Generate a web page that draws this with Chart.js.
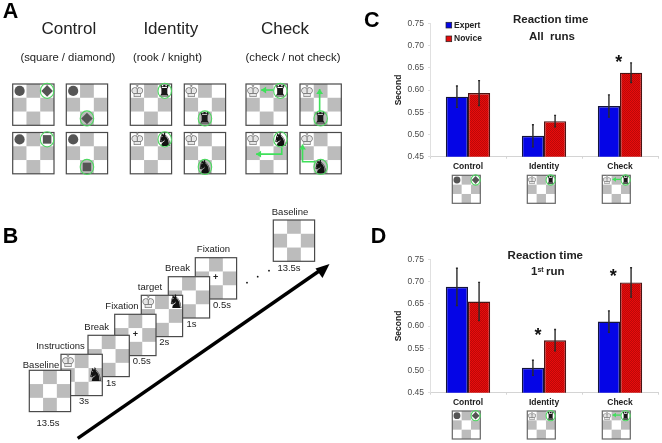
<!DOCTYPE html>
<html>
<head>
<meta charset="utf-8">
<script src="https://cdn.jsdelivr.net/npm/chart.js@4"></script>
<style>
  html, body { margin: 0; padding: 0; background: #fff; }
  #wrap { position: relative; width: 662px; height: 443px; overflow: hidden; }
  canvas { position: absolute; }
</style>
</head>
<body>
<div id="wrap">
  <canvas id="sketch" width="662" height="443" style="left:0;top:0"></canvas>
  <canvas id="chartC" width="292" height="225" style="left:370px;top:0"></canvas>
  <canvas id="chartD" width="292" height="218" style="left:370px;top:225px"></canvas>
</div>
<script>
// Data
const categories = ["Control", "Identity", "Check"];
const seriesNames = ["Expert", "Novice"];
const yTicks = ["0.45", "0.50", "0.55", "0.60", "0.65", "0.70", "0.75"];

const expertAll = [0.585, 0.497, 0.564];
const noviceAll = [0.593, 0.530, 0.639];
const expertAllErr = [0.024, 0.025, 0.025];
const noviceAllErr = [0.028, 0.013, 0.022];

const expertFirst = [0.688, 0.506, 0.610];
const noviceFirst = [0.655, 0.568, 0.698];
const expertFirstErr = [0.042, 0.017, 0.024];
const noviceFirstErr = [0.043, 0.024, 0.033];

const FONT = '"Liberation Sans", Arial, sans-serif';
const BLUE = "#0505e6";

// Red fill with the fine dark dots of the original
function redPattern() {
  const c = document.createElement("canvas");
  c.width = 2;
  c.height = 2;
  const x = c.getContext("2d");
  x.fillStyle = "#e80c0c";
  x.fillRect(0, 0, 2, 2);
  x.fillStyle = "#bc0808";
  x.fillRect(0, 0, 1, 1);
  x.fillRect(1, 1, 1, 1);
  return document.getElementById("sketch").getContext("2d").createPattern(c, "repeat");
}

// Error bars, placed through the value scale
const errorBars = {
  id: "errorBars",
  afterDatasetsDraw(chart) {
    const ctx = chart.ctx;
    const yScale = chart.scales.y;
    ctx.save();
    ctx.strokeStyle = "#2a2a2a";
    ctx.lineWidth = 1.4;
    chart.data.datasets.forEach(function (ds, i) {
      chart.getDatasetMeta(i).data.forEach(function (bar, j) {
        const top = yScale.getPixelForValue(ds.data[j] + ds.err[j]);
        const bottom = yScale.getPixelForValue(ds.data[j] - ds.err[j]);
        ctx.beginPath();
        ctx.moveTo(bar.x, top);
        ctx.lineTo(bar.x, bottom);
        ctx.moveTo(bar.x - 1, top);
        ctx.lineTo(bar.x + 1, top);
        ctx.moveTo(bar.x - 1, bottom);
        ctx.lineTo(bar.x + 1, bottom);
        ctx.stroke();
      });
    });
    ctx.restore();
  },
};

function makeChart(id, expert, novice, expertErr, noviceErr, areaTop, xHeight) {
  return new Chart(document.getElementById(id), {
    type: "bar",
    data: {
      labels: categories,
      datasets: [
        { label: seriesNames[0], data: expert, err: expertErr, backgroundColor: BLUE, borderColor: "#14143c", borderWidth: 1.4 },
        { label: seriesNames[1], data: novice, err: noviceErr, backgroundColor: redPattern(), borderColor: "#4a1414", borderWidth: 1.4 },
      ],
    },
    plugins: [errorBars],
    options: {
      responsive: false,
      animation: false,
      layout: { padding: { top: areaTop, right: 4, left: 0, bottom: 0 } },
      plugins: { legend: { display: false }, title: { display: false }, tooltip: { enabled: false } },
      datasets: { bar: { categoryPercentage: 0.583, barPercentage: 1 } },
      scales: {
        x: {
          grid: { drawOnChartArea: false, color: "#d4d4d4", tickLength: 2 },
          border: { color: "#d4d4d4" },
          ticks: { color: "#222", padding: 3, font: { family: FONT, size: 8.5, weight: "bold" }, maxRotation: 0 },
          afterFit(s) { s.height = xHeight; },
        },
        y: {
          min: 0.45,
          max: 0.75,
          grid: { drawOnChartArea: false, color: "#e0e0e0", tickLength: 2 },
          border: { color: "#e0e0e0" },
          ticks: {
            stepSize: 0.05,
            color: "#4a4a4a",
            padding: 4,
            font: { family: FONT, size: 8.5 },
            callback: function (v) { return yTicks[Math.round((v - 0.45) / 0.05)]; },
          },
          title: { display: true, text: "Second", color: "#222", padding: { top: 24, bottom: 0 }, font: { family: FONT, size: 8.5, weight: "bold" } },
          afterFit(s) { s.width = 60; },
        },
      },
    },
  });
}

makeChart("chartC", expertAll, noviceAll, expertAllErr, noviceAllErr, 23.3, 68.3);
makeChart("chartD", expertFirst, noviceFirst, expertFirstErr, noviceFirstErr, 34.3, 50.3);

// ---- everything that is not the bar charts: boards, labels, arrows ----
const ctx = document.getElementById("sketch").getContext("2d");

function label(text, x, y, size, opts) {
  opts = opts || {};
  ctx.font = (opts.bold ? "bold " : "") + size + "px " + FONT;
  ctx.fillStyle = opts.color || "#222";
  ctx.textAlign = opts.align || "center";
  ctx.textBaseline = "middle";
  ctx.fillText(text, x, y);
}

function greenArrow(pts, k, x0, y0) {
  ctx.strokeStyle = "#3fe05a";
  ctx.fillStyle = "#3fe05a";
  ctx.lineWidth = 1.6 * Math.max(k, 0.8);
  ctx.beginPath();
  pts.forEach(function (p, i) {
    if (i === 0) ctx.moveTo(x0 + p[0] * k, y0 + p[1] * k);
    else ctx.lineTo(x0 + p[0] * k, y0 + p[1] * k);
  });
  ctx.stroke();
  const a = pts[pts.length - 1];
  const b = pts[pts.length - 2];
  const ang = Math.atan2(a[1] - b[1], a[0] - b[0]);
  const tipX = x0 + a[0] * k;
  const tipY = y0 + a[1] * k;
  const h = 6 * k;
  ctx.beginPath();
  ctx.moveTo(tipX, tipY);
  ctx.lineTo(tipX - h * Math.cos(ang - 0.6), tipY - h * Math.sin(ang - 0.6));
  ctx.lineTo(tipX - h * Math.cos(ang + 0.6), tipY - h * Math.sin(ang + 0.6));
  ctx.closePath();
  ctx.fill();
}

function drawPiece(kind, cx, cy, cell) {
  ctx.textAlign = "center";
  ctx.textBaseline = "middle";
  // the chess glyphs sit high on a middle baseline
  const gy = cy + cell * 0.1;
  if (kind === "king") {
    ctx.font = cell * 1.2 + 'px "DejaVu Sans"';
    ctx.fillStyle = "#e4e4e4";
    ctx.fillText("\u265A", cx, gy);
    ctx.fillStyle = "#808080";
    ctx.fillText("\u2654", cx, gy);
  } else if (kind === "rook") {
    ctx.font = cell * 1.2 + 'px "DejaVu Sans"';
    ctx.fillStyle = "#1a1a1a";
    ctx.fillText("\u265C", cx, gy);
  } else if (kind === "knight") {
    ctx.font = cell * 1.35 + 'px "DejaVu Sans"';
    ctx.fillStyle = "#111";
    ctx.fillText("\u265E", cx, gy);
  } else if (kind === "dot") {
    ctx.fillStyle = "#555";
    ctx.beginPath();
    ctx.arc(cx, cy, cell * 0.37, 0, Math.PI * 2);
    ctx.fill();
  } else if (kind === "diamond") {
    const r = cell * 0.42;
    ctx.fillStyle = "#555";
    ctx.beginPath();
    ctx.moveTo(cx, cy - r);
    ctx.lineTo(cx + r, cy);
    ctx.lineTo(cx, cy + r);
    ctx.lineTo(cx - r, cy);
    ctx.closePath();
    ctx.fill();
  } else if (kind === "square") {
    const r = cell * 0.31;
    ctx.fillStyle = "#555";
    ctx.fillRect(cx - r, cy - r, r * 2, r * 2);
  }
}

// pieces: [kind, col, row]; ring: [col, row] gets the green circle
function board(x, y, size, pieces, ring, arrow, border) {
  const cell = size / 3;
  ctx.fillStyle = "#fff";
  ctx.fillRect(x, y, size, size);
  ctx.fillStyle = "#bcbcbc";
  [[1, 0], [0, 1], [2, 1], [1, 2]].forEach(function (c) {
    ctx.fillRect(x + c[0] * cell, y + c[1] * cell, cell, cell);
  });
  ctx.strokeStyle = border || "#4a4a4a";
  ctx.lineWidth = 1.2;
  ctx.strokeRect(x, y, size, size);
  (pieces || []).forEach(function (p) {
    drawPiece(p[0], x + (p[1] + 0.5) * cell, y + (p[2] + 0.5) * cell, cell);
  });
  if (ring) {
    ctx.strokeStyle = "#4fd862";
    ctx.lineWidth = 1.1;
    ctx.beginPath();
    ctx.ellipse(x + (ring[0] + 0.5) * cell, y + (ring[1] + 0.5) * cell, cell * 0.49, cell * 0.55, 0, 0, Math.PI * 2);
    ctx.stroke();
  }
  if (arrow) greenArrow(arrow, size / 41, x, y);
}

const S = 41.3;
const TR = [2, 0];
const BM = [1, 2];
const dot = ["dot", 0, 0];
const king = ["king", 0, 0];

// Panel A
label("A", 10.5, 12, 21.5, { bold: true, color: "#000" });
label("Control", 68.8, 29, 17);
label("Identity", 170.8, 29, 17);
label("Check", 285, 29, 17);
label("(square / diamond)", 67.8, 58, 11.3);
label("(rook / knight)", 167.5, 58, 11.3);
label("(check / not check)", 293, 58, 11.3);

board(12.7, 84, S, [dot, ["diamond", 2, 0]], TR);
board(66.3, 84, S, [dot, ["diamond", 1, 2]], BM);
board(12.7, 132.5, S, [dot, ["square", 2, 0]], TR);
board(66.3, 132.5, S, [dot, ["square", 1, 2]], BM);

board(130.3, 84, S, [king, ["rook", 2, 0]], TR);
board(184.3, 84, S, [king, ["rook", 1, 2]], BM);
board(130.3, 132.5, S, [king, ["knight", 2, 0]], TR);
board(184.3, 132.5, S, [king, ["knight", 1, 2]], BM);

const arrowRow = [[27, 6], [15, 6]];
board(246, 84, S, [king, ["rook", 2, 0]], TR, arrowRow);
board(300, 84, S, [king, ["rook", 1, 2]], BM, [[19.5, 28], [19.5, 5]]);
board(246, 132.5, S, [king, ["knight", 2, 0]], TR, [[35.5, 15], [35.5, 21.5], [10, 21.5]]);
board(300, 132.5, S, [king, ["knight", 1, 2]], BM, [[15, 29], [2.5, 29], [2.5, 12]]);

// Panel B - drawn last to first so the earlier boards sit on top
label("B", 10.5, 237, 21.5, { bold: true, color: "#000" });
board(273.3, 220, S, []);
board(195.3, 257.7, S, []);
board(168.3, 276.7, S, []);
board(141.3, 295.3, S, [king, ["knight", 2, 0]]);
board(114.7, 314.3, S, []);
board(88, 335.3, S, []);
board(61, 354.3, S, [king, ["knight", 2, 1]]);
board(29.3, 370.3, S, []);
label("+", 215.7, 278, 9, { bold: true });
label("+", 135.3, 335, 9, { bold: true });

[["Baseline", 41, 365], ["Instructions", 60.5, 346], ["Break", 96.7, 327.7], ["Fixation", 122, 306.3],
 ["target", 150, 287.3], ["Break", 177.5, 268.7], ["Fixation", 213.5, 249.7], ["Baseline", 290, 212],
 ["13.5s", 48, 423.7], ["3s", 84, 401.7], ["1s", 111, 383.7], ["0.5s", 141.7, 361.7],
 ["2s", 164.3, 342.7], ["1s", 191.5, 324.7], ["0.5s", 222, 305.7], ["13.5s", 289, 268]
].forEach(function (t) { label(t[0], t[1], t[2], 9.5); });

ctx.fillStyle = "#111";
[[247, 282.7], [257.7, 276.7], [269, 270.7]].forEach(function (p) {
  ctx.beginPath();
  ctx.arc(p[0], p[1], 0.9, 0, Math.PI * 2);
  ctx.fill();
});

// Time arrow
ctx.strokeStyle = "#000";
ctx.fillStyle = "#000";
ctx.lineWidth = 3.4;
ctx.beginPath();
ctx.moveTo(77.7, 438.3);
ctx.lineTo(322, 269);
ctx.stroke();
ctx.beginPath();
ctx.moveTo(329.5, 264);
ctx.lineTo(315.5, 268.5);
ctx.lineTo(322.5, 278);
ctx.closePath();
ctx.fill();

// Panel C text
label("C", 371.7, 21, 21.5, { bold: true, color: "#000" });
label("Reaction time", 550.7, 20, 11.5, { bold: true });
label("All  runs", 552, 36.7, 11.5, { bold: true });
ctx.fillStyle = BLUE;
ctx.fillRect(446, 22.3, 5.7, 5.7);
ctx.fillStyle = "#e40c0c";
ctx.fillRect(446, 36, 5.7, 5.7);
ctx.strokeStyle = "#222";
ctx.lineWidth = 0.7;
ctx.strokeRect(446, 22.3, 5.7, 5.7);
ctx.strokeRect(446, 36, 5.7, 5.7);
label(seriesNames[0], 454, 25.7, 8.5, { bold: true, align: "left" });
label(seriesNames[1], 454, 39, 8.5, { bold: true, align: "left" });
label("*", 618.7, 63, 18, { bold: true, color: "#111" });

// Panel D text
label("D", 378.5, 237, 21.5, { bold: true, color: "#000" });
label("Reaction time", 545.3, 256.3, 11.5, { bold: true });
label("1", 531, 272.3, 11.5, { bold: true, align: "left" });
label("st", 537.4, 270, 7, { bold: true, align: "left" });
label("run", 546, 272.3, 11.5, { bold: true, align: "left" });
label("*", 538, 336, 18, { bold: true, color: "#111" });
label("*", 613.3, 277, 18, { bold: true, color: "#111" });

// Thumbnails under the bars
[175.3, 411].forEach(function (y) {
  const sz = 28;
  board(452.3, y, sz, [dot, ["diamond", 2, 0]], TR, null, "#666");
  board(527.3, y, sz, [king, ["rook", 2, 0]], TR, null, "#666");
  board(602.3, y, sz, [king, ["rook", 2, 0]], TR, arrowRow, "#666");
});
</script>
</body>
</html>
